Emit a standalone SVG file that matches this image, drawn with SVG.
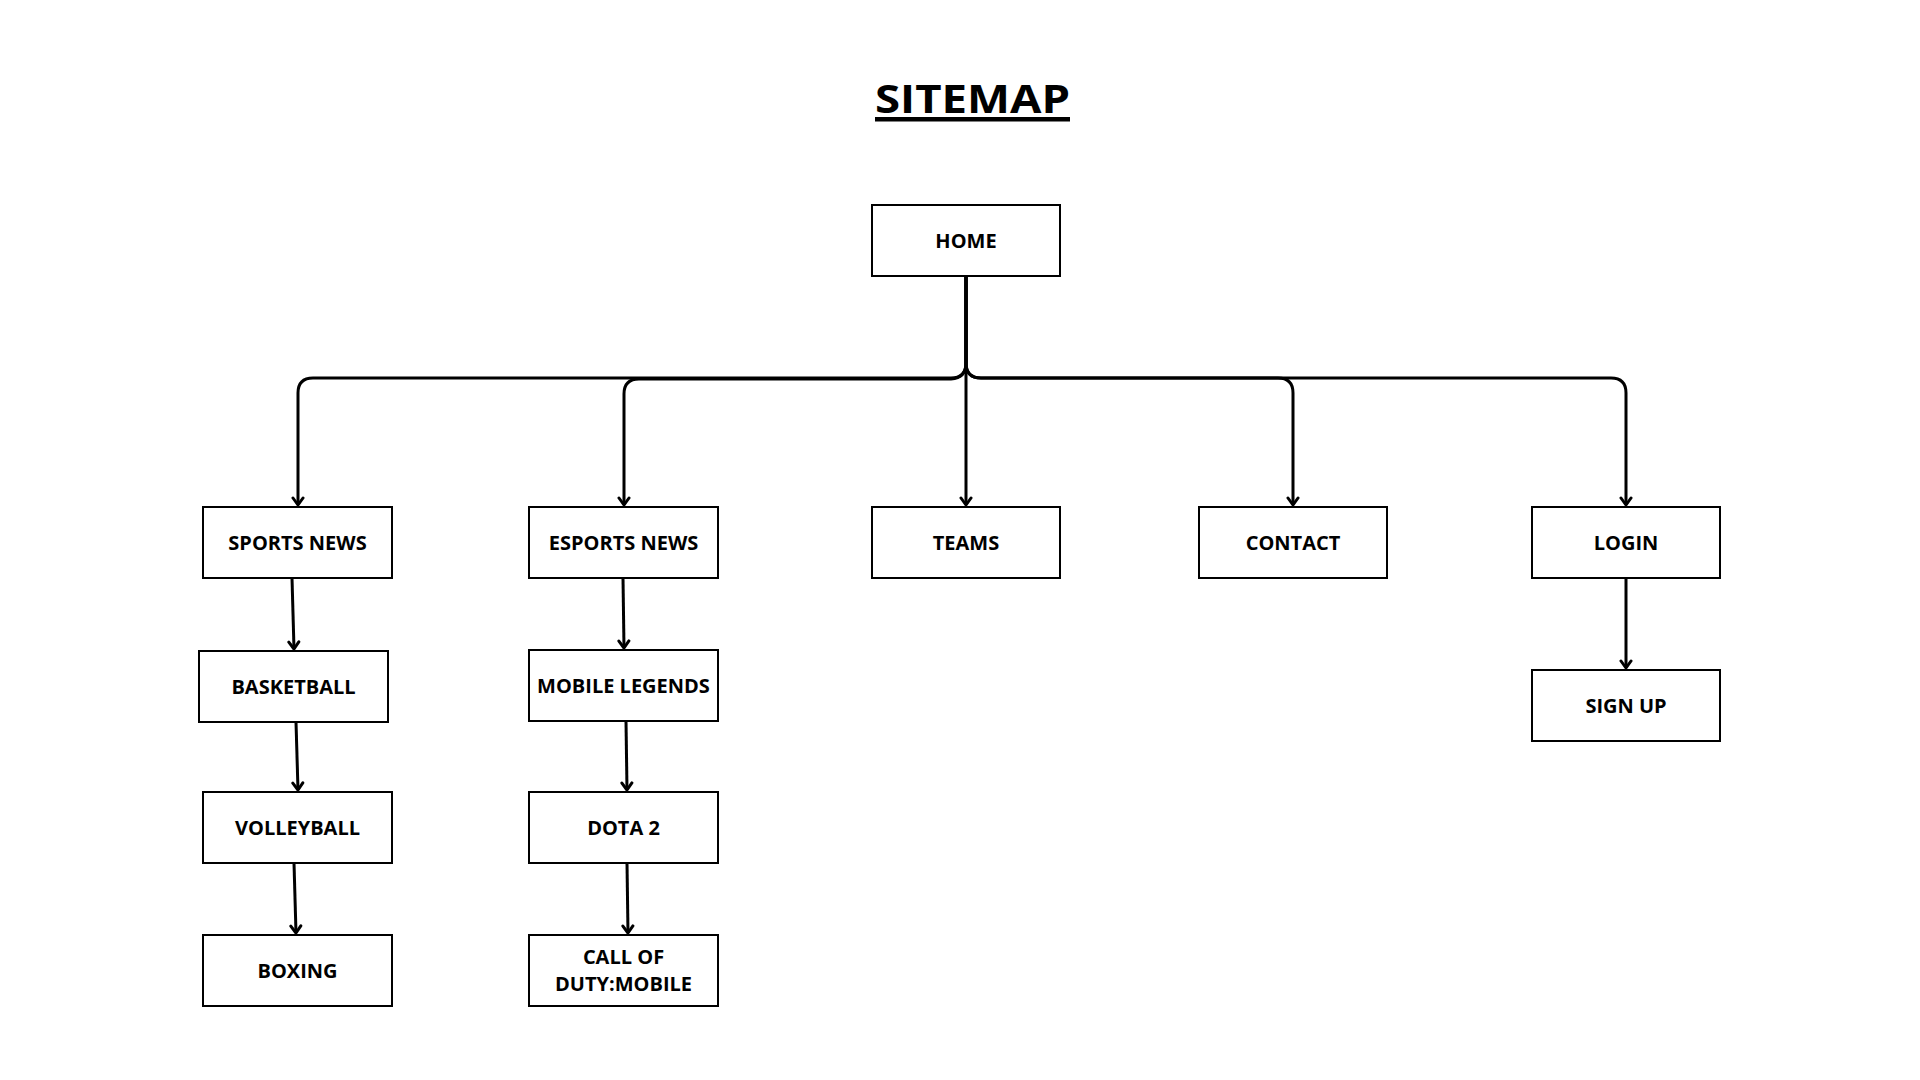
<svg xmlns="http://www.w3.org/2000/svg" width="1920" height="1080" viewBox="0 0 1920 1080">
<style>
.box{fill:#fff;stroke:#000;stroke-width:2}
.lbl{font-family:"Open Sans","Liberation Sans",sans-serif;font-weight:700;font-size:20px;fill:#000;text-anchor:middle}
.title{font-family:"Open Sans","Liberation Sans",sans-serif;font-weight:700;font-size:39px;fill:#000;text-anchor:middle}
.con{fill:none;stroke:#000;stroke-width:3;marker-end:url(#arr)}
</style>
<defs>
<marker id="arr" markerUnits="userSpaceOnUse" markerWidth="14" markerHeight="14" viewBox="-10 -7 12 14" refX="0" refY="0" orient="auto">
<path d="M-7,-5 L0,0 L-7,5" fill="none" stroke="#000" stroke-width="3" stroke-linejoin="round" stroke-linecap="round"/>
</marker>
</defs>
<rect width="1920" height="1080" fill="#fff"/>
<g id="title">
<text class="title" x="972.5" y="112.5" textLength="195" lengthAdjust="spacingAndGlyphs">SITEMAP</text>
<rect x="875" y="117" width="195" height="4.5" fill="#000"/>
</g>
<g id="connectors">
<path class="con" d="M966,276 V363 Q966,378 951,378 H313 Q298,378 298,393 V505"/>
<path class="con" d="M966,276 V363 Q966,378 951,379 H639 Q624,379 624,394 V505"/>
<path class="con" d="M966,276 V505"/>
<path class="con" d="M966,276 V363 Q966,378 981,378 H1278 Q1293,378 1293,393 V505"/>
<path class="con" d="M966,276 V363 Q966,378 981,378 H1611 Q1626,378 1626,393 V505"/>
<path class="con" d="M292,578 L294,649"/>
<path class="con" d="M296,722 L298,790"/>
<path class="con" d="M294,863 L296,933"/>
<path class="con" d="M623,578 L624,648"/>
<path class="con" d="M626,721 L627,790"/>
<path class="con" d="M627,863 L628,933"/>
<path class="con" d="M1626,578 V668"/>
</g>
<g id="home"><rect class="box" x="872" y="205" width="188" height="71"/><text class="lbl" x="966" y="247.5">HOME</text></g>
<g id="sports-news"><rect class="box" x="203" y="507" width="189" height="71"/><text class="lbl" x="297.5" y="549.5">SPORTS NEWS</text></g>
<g id="esports-news"><rect class="box" x="529" y="507" width="189" height="71"/><text class="lbl" x="623.5" y="549.5">ESPORTS NEWS</text></g>
<g id="teams"><rect class="box" x="872" y="507" width="188" height="71"/><text class="lbl" x="966" y="549.5">TEAMS</text></g>
<g id="contact"><rect class="box" x="1199" y="507" width="188" height="71"/><text class="lbl" x="1293" y="549.5">CONTACT</text></g>
<g id="login"><rect class="box" x="1532" y="507" width="188" height="71"/><text class="lbl" x="1626" y="549.5">LOGIN</text></g>
<g id="basketball"><rect class="box" x="199" y="651" width="189" height="71"/><text class="lbl" x="293.5" y="693.5">BASKETBALL</text></g>
<g id="mobile-legends"><rect class="box" x="529" y="650" width="189" height="71"/><text class="lbl" x="623.5" y="692.5">MOBILE LEGENDS</text></g>
<g id="volleyball"><rect class="box" x="203" y="792" width="189" height="71"/><text class="lbl" x="297.5" y="834.5">VOLLEYBALL</text></g>
<g id="dota-2"><rect class="box" x="529" y="792" width="189" height="71"/><text class="lbl" x="623.5" y="834.5">DOTA 2</text></g>
<g id="boxing"><rect class="box" x="203" y="935" width="189" height="71"/><text class="lbl" x="297.5" y="977.5">BOXING</text></g>
<g id="call-of-duty"><rect class="box" x="529" y="935" width="189" height="71"/><text class="lbl" x="623.5" y="964">CALL OF</text><text class="lbl" x="623.5" y="991">DUTY:MOBILE</text></g>
<g id="sign-up"><rect class="box" x="1532" y="670" width="188" height="71"/><text class="lbl" x="1626" y="712.5">SIGN UP</text></g>
</svg>
